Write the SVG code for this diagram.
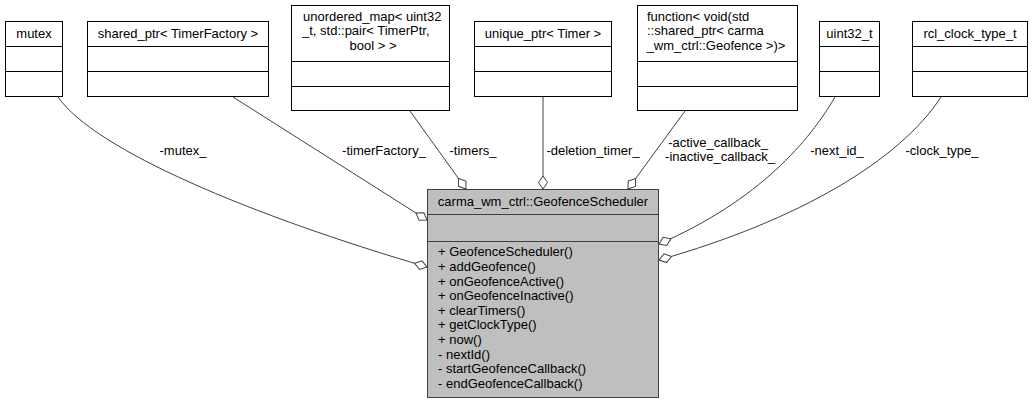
<svg xmlns="http://www.w3.org/2000/svg" width="1033" height="404" viewBox="0 0 1033 404">
<style>
text{font-family:"Liberation Sans",Arial,sans-serif;font-size:13px;fill:#000}
.c{text-anchor:middle}
.s{text-anchor:start}
.box{fill:#fff;stroke:#000;stroke-width:1}
.main{fill:#bfbfbf;stroke:#404040;stroke-width:1}
.div{stroke:#000;stroke-width:1}
.mdiv{stroke:#404040;stroke-width:1}
.edge{fill:none;stroke:#404040;stroke-width:1;marker-end:url(#dia)}
</style>
<defs>
<marker id="dia" markerUnits="userSpaceOnUse" markerWidth="16" markerHeight="12" viewBox="-15 -6 16 12" refX="0" refY="0" orient="auto">
<path d="M0,0 L-6.5,-4.5 L-13,0 L-6.5,4.5 Z" fill="#fff" stroke="#404040" stroke-width="1"/>
</marker>
</defs>
<g id="connectors">
<path class="edge" d="M58,97 C95,150 250,215 427,267"/>
<path class="edge" d="M233,97 L427,220"/>
<path class="edge" d="M410,111 L466,189"/>
<path class="edge" d="M543,97 L543,189"/>
<path class="edge" d="M685,111 L628,189"/>
<path class="edge" d="M835,97 C810,140 760,200 659,244"/>
<path class="edge" d="M941,97 C900,160 800,220 659,260"/>
<text class="c" x="183" y="154.5">-mutex_</text>
<text class="c" x="384" y="154.5">-timerFactory_</text>
<text class="c" x="473" y="154.5">-timers_</text>
<text class="c" x="593" y="154.5">-deletion_timer_</text>
<text class="c" x="718" y="147">-active_callback_</text>
<text class="c" x="720" y="161">-inactive_callback_</text>
<text class="c" x="837" y="154.5">-next_id_</text>
<text class="c" x="942" y="154.5">-clock_type_</text>
</g>
<g id="node_main">
<rect class="main" x="427.5" y="189.5" width="231" height="208"/>
<line class="mdiv" x1="427.5" y1="214.5" x2="658.5" y2="214.5"/>
<line class="mdiv" x1="427.5" y1="241.5" x2="658.5" y2="241.5"/>
<text class="c" x="543" y="206">carma_wm_ctrl::GeofenceScheduler</text>
<text class="s" x="438" y="256.3">+ GeofenceScheduler()</text>
<text class="s" x="438" y="270.9">+ addGeofence()</text>
<text class="s" x="438" y="285.5">+ onGeofenceActive()</text>
<text class="s" x="438" y="300.1">+ onGeofenceInactive()</text>
<text class="s" x="438" y="314.7">+ clearTimers()</text>
<text class="s" x="438" y="329.3">+ getClockType()</text>
<text class="s" x="438" y="343.9">+ now()</text>
<text class="s" x="438" y="358.5">- nextId()</text>
<text class="s" x="438" y="373.1">- startGeofenceCallback()</text>
<text class="s" x="438" y="387.7">- endGeofenceCallback()</text>
</g>
<g id="node_mutex">
<rect class="box" x="5.5" y="21.5" width="57" height="75"/>
<line class="div" x1="5.5" y1="46.5" x2="62.5" y2="46.5"/>
<line class="div" x1="5.5" y1="71.5" x2="62.5" y2="71.5"/>
<text class="c" x="34" y="38">mutex</text>
</g>
<g id="node_shared_ptr">
<rect class="box" x="87.5" y="21.5" width="181" height="75"/>
<line class="div" x1="87.5" y1="46.5" x2="268.5" y2="46.5"/>
<line class="div" x1="87.5" y1="71.5" x2="268.5" y2="71.5"/>
<text class="c" x="178" y="38">shared_ptr&lt; TimerFactory &gt;</text>
</g>
<g id="node_unordered_map">
<rect class="box" x="291.5" y="5.5" width="158" height="105"/>
<line class="div" x1="291.5" y1="61.5" x2="449.5" y2="61.5"/>
<line class="div" x1="291.5" y1="86.5" x2="449.5" y2="86.5"/>
<text class="s" x="303" y="20.5">unordered_map&lt; uint32</text>
<text class="s" x="302" y="35">_t, std::pair&lt; TimerPtr,</text>
<text class="c" x="373" y="49.5">bool &gt; &gt;</text>
</g>
<g id="node_unique_ptr">
<rect class="box" x="474.5" y="21.5" width="137" height="75"/>
<line class="div" x1="474.5" y1="46.5" x2="611.5" y2="46.5"/>
<line class="div" x1="474.5" y1="71.5" x2="611.5" y2="71.5"/>
<text class="c" x="543" y="38">unique_ptr&lt; Timer &gt;</text>
</g>
<g id="node_function">
<rect class="box" x="637.5" y="5.5" width="160" height="105"/>
<line class="div" x1="637.5" y1="61.5" x2="797.5" y2="61.5"/>
<line class="div" x1="637.5" y1="86.5" x2="797.5" y2="86.5"/>
<text class="s" x="647" y="20.5">function&lt; void(std</text>
<text class="s" x="647" y="35">::shared_ptr&lt; carma</text>
<text class="c" x="716" y="49.5">_wm_ctrl::Geofence &gt;)&gt;</text>
</g>
<g id="node_uint32_t">
<rect class="box" x="819.5" y="21.5" width="60" height="75"/>
<line class="div" x1="819.5" y1="46.5" x2="879.5" y2="46.5"/>
<line class="div" x1="819.5" y1="71.5" x2="879.5" y2="71.5"/>
<text class="c" x="849.5" y="38">uint32_t</text>
</g>
<g id="node_rcl_clock_type_t">
<rect class="box" x="912.5" y="21.5" width="115" height="75"/>
<line class="div" x1="912.5" y1="46.5" x2="1027.5" y2="46.5"/>
<line class="div" x1="912.5" y1="71.5" x2="1027.5" y2="71.5"/>
<text class="c" x="970" y="38">rcl_clock_type_t</text>
</g>
</svg>
